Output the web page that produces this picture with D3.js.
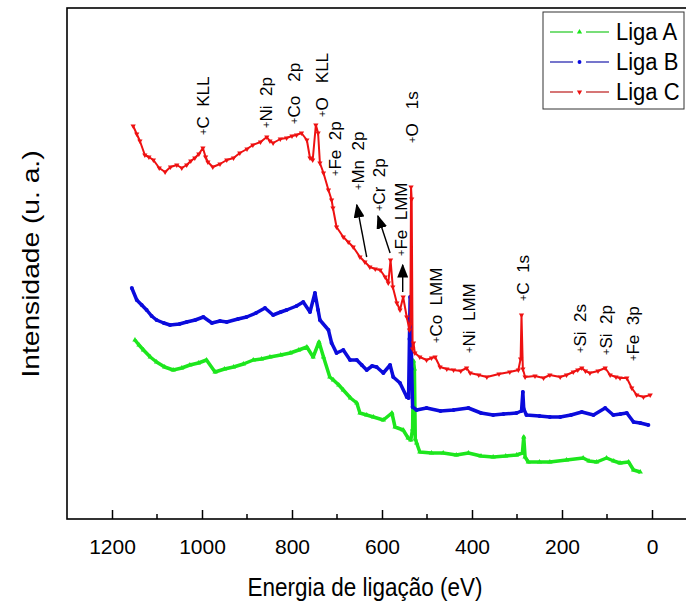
<!DOCTYPE html>
<html><head><meta charset="utf-8">
<script src="https://cdn.jsdelivr.net/npm/d3@7"></script>
<style>body{margin:0;background:#fff}svg{display:block}text{font-family:"Liberation Sans",Arial,sans-serif}</style>
</head><body><svg id="c" width="686" height="610"></svg>
<script>
// Binding energy (eV) and intensity (a.u.)
const energyC = [1153,1145,1138,1127,1118,1108,1095,1082,1070,1056,1045,1034,1025,1016,1007,998,992,987,976,960,945,930,916,900,887,870,856,849,842,826,812,800,790,779,767,760,754,747,742,738,730,719,712,709,701,686,675,664,649,638,627,615,604,593,586,581,576,567,560,553,545,539,537,535.5,534,532,530,527,516,501,490,482,471,456,441,425,412,404,385,367,340,316,297,292,290,287,282,260,241,227,204,190,175,165,156,148,138,120,104,93,80,71,56,45,34,19,4];
const valueC  = [393,385,378,364,362,359,351,347,352,354,351,354,358,361,365,371,362,357,352,355,359,361,366,370,374,377,382,378,376,380,381,383,384,386,379,361,359,394,386,356,346,329,319,311,292,282,277,272,262,257,252,250,249,242,236,259,232,216,209,222,202,189,195,332,320,170,176,166,162,159,161,162,152,150,149,148,151,146,144,142,145,147,149,160,204,150,142,143,141,144,142,144,147,149,151,148,146,148,151,144,142,141,141,131,124,122,124];
const energyB = [1156,1145,1134,1123,1112,1101,1085,1071,1050,1034,1015,997,978,960,945,920,901,880,860,842,825,812,790,775,760,749,742,738,719,712,701,686,671,656,645,634,622,612,597,582,575,560,545,541,539,537.5,536,534,532,523,501,470,441,408,380,353,330,301,290,287,285,279,250,227,204,180,156,130,104,86,70,56,41,26,8];
const valueB  = [231,219,214,209,203,199,196,194,195,197,199,202,196,198,197,200,202,206,211,204,207,209,213,217,207,226,209,199,189,176,166,169,159,159,154,149,153,152,146,154,142,136,122,121,180,222,215,150,112,109,111,108,109,111,106,104,105,106,108,127,110,104,103,102,102,104,107,104,111,104,105,106,97,96,94];
const energyA = [1149,1140,1130,1115,1101,1083,1064,1045,1027,1008,990,971,950,930,908,886,868,849,825,804,785,767,753,740,730,716,708,696,686,670,656,649,634,619,597,578,571,553,542,536,532,530,528,526,523,516,490,464,435,408,380,353,325,301,288,285,282,275,250,227,190,153,140,123,101,85,71,52,41,26];
const valueA  = [179,174,169,162,157,152,149,151,154,156,159,147,150,152,155,159,160,162,164,166,169,172,162,177,162,142,139,134,129,121,116,106,104,102,99,106,92,89,81,79,90,158,150,80,76,67,66,66,64,66,63,62,63,64,66,82,62,57,57,57,59,61,58,57,61,58,56,57,49,47];

const seriesNames = ["Liga A","Liga B","Liga C"];
const xTicks = [1200,1000,800,600,400,200,0];
const xMinorTicks = [1100,900,700,500,300,100];

// peak annotations: label, energy, intensity level of the "+" mark
const annotLabels = ["C  KLL","Ni  2p","Co   2p","O   KLL","Fe  2p","Mn  2p","Cr  2p","Fe  LMM","O   1s","Co  LMM","Ni  LMM","C  1s","Si  2s","Si  2p","Fe  3p"];
const annotEnergy = [998,858,796,733,704,653,607,558,533,480,407,287,160,102,42];
const annotLevel  = [384,391,395,402,343,329,308,263,376,176,166,218,166,164,158];
// arrows: [fromEnergy, fromLevel, toEnergy, toLevel]
const arrowsData = [[634,262,656,314],[582,266,609,303],[554,227,554,254]];

const svg = d3.select("#c");
const L=67, R=697, T=8, B=519;
const x = d3.scaleLinear().domain([1300,-100]).range([L,R]);
const y = d3.scaleLinear().domain([0,511]).range([B,T]);

const defs = svg.append("defs");
defs.append("marker").attr("id","ah").attr("viewBox","0 0 10 10").attr("refX",9).attr("refY",5)
  .attr("markerWidth",14).attr("markerHeight",11).attr("markerUnits","userSpaceOnUse").attr("orient","auto")
  .attr("preserveAspectRatio","none")
  .append("path").attr("d","M0,0 L10,5 L0,10 z").attr("fill","#000");

const line = d3.line().x(d=>x(d[0])).y(d=>y(d[1]));
const series = [
  {e:energyA,v:valueA,color:"#1de61d",w:3.5,sym:d3.symbolTriangle},
  {e:energyB,v:valueB,color:"#0b0bdc",w:3.5,sym:d3.symbolCircle},
  {e:energyC,v:valueC,color:"#ee1111",w:2,sym:d3.symbolTriangle,flip:true}
];
series.forEach(s=>{
  const pts = s.e.map((e,i)=>[e,s.v[i]]);
  svg.append("path").attr("d",line(pts)).attr("fill","none").attr("stroke",s.color)
    .attr("stroke-width",s.w).attr("stroke-linejoin","round");
  svg.append("g").selectAll("path").data(pts).join("path")
    .attr("d",d3.symbol().type(s.sym).size(12))
    .attr("transform",d=>`translate(${x(d[0])},${y(d[1])})${s.flip?" rotate(180)":""}`)
    .attr("fill",s.color);
});

// annotations
const ag = svg.append("g");
annotLabels.forEach((t,i)=>{
  const tx = ag.append("text").attr("transform",`translate(${x(annotEnergy[i])},${y(annotLevel[i])}) rotate(-90)`)
    .attr("dominant-baseline","central").attr("font-size",17).attr("fill","#000");
  tx.append("tspan").attr("font-size",11).text("+");
  tx.append("tspan").style("white-space","pre").text(t);
});
arrowsData.forEach(a=>{
  svg.append("line").attr("x1",x(a[0])).attr("y1",y(a[1])).attr("x2",x(a[2])).attr("y2",y(a[3]))
    .attr("stroke","#000").attr("stroke-width",1.4).attr("marker-end","url(#ah)");
});

// frame
svg.append("rect").attr("x",L).attr("y",T).attr("width",R-L).attr("height",B-T)
  .attr("fill","none").attr("stroke","#000").attr("stroke-width",1.6);

// axis
const ax = svg.append("g").attr("transform",`translate(0,${B})`)
  .call(d3.axisBottom(x).tickValues(xTicks).tickSize(-9).tickPadding(20).tickFormat(d3.format("d")));
ax.select(".domain").remove();
ax.selectAll("line").attr("stroke-width",1.5);
ax.selectAll("text").attr("font-size",21).attr("font-family","Liberation Sans, Arial").attr("fill","#000");
svg.append("g").attr("transform",`translate(0,${B})`).selectAll("line").data(xMinorTicks).join("line")
  .attr("x1",d=>x(d)).attr("x2",d=>x(d)).attr("y1",0).attr("y2",-5).attr("stroke","#000").attr("stroke-width",1.5);

svg.append("text").attr("transform","translate(365,596) scale(1,1.15)").attr("text-anchor","middle").attr("font-size",22.5)
  .text("Energia de ligação (eV)");
svg.append("text").attr("transform","translate(39,264) scale(1,1.2) rotate(-90)").attr("text-anchor","middle").attr("font-size",23.5)
  .text("Intensidade (u. a.)");

// legend
const lg = svg.append("g");
lg.append("rect").attr("x",543).attr("y",12).attr("width",141).attr("height",97)
  .attr("fill","#fff").attr("stroke","#333").attr("stroke-width",1);
const legColors = ["#2fcc2f","#2b2bb0","#c02a2a"];
const legMark = ["#19e619","#0a0ae0","#ee1111"];
const legSyms = [d3.symbolTriangle,d3.symbolCircle,d3.symbolTriangle];
seriesNames.forEach((n,i)=>{
  const yy = 32 + i*30;
  lg.append("line").attr("x1",550).attr("x2",573).attr("y1",yy).attr("y2",yy).attr("stroke",legColors[i]).attr("stroke-width",1.3);
  lg.append("line").attr("x1",586).attr("x2",609).attr("y1",yy).attr("y2",yy).attr("stroke",legColors[i]).attr("stroke-width",1.3);
  lg.append("path").attr("d",d3.symbol().type(legSyms[i]).size(12)).attr("fill",legMark[i])
    .attr("transform",`translate(579.5,${yy})${i===2?" rotate(180)":""}`);
  lg.append("text").attr("transform",`translate(616,${yy+8}) scale(1,1.12)`).attr("font-size",22).text(n);
});
</script></body></html>
